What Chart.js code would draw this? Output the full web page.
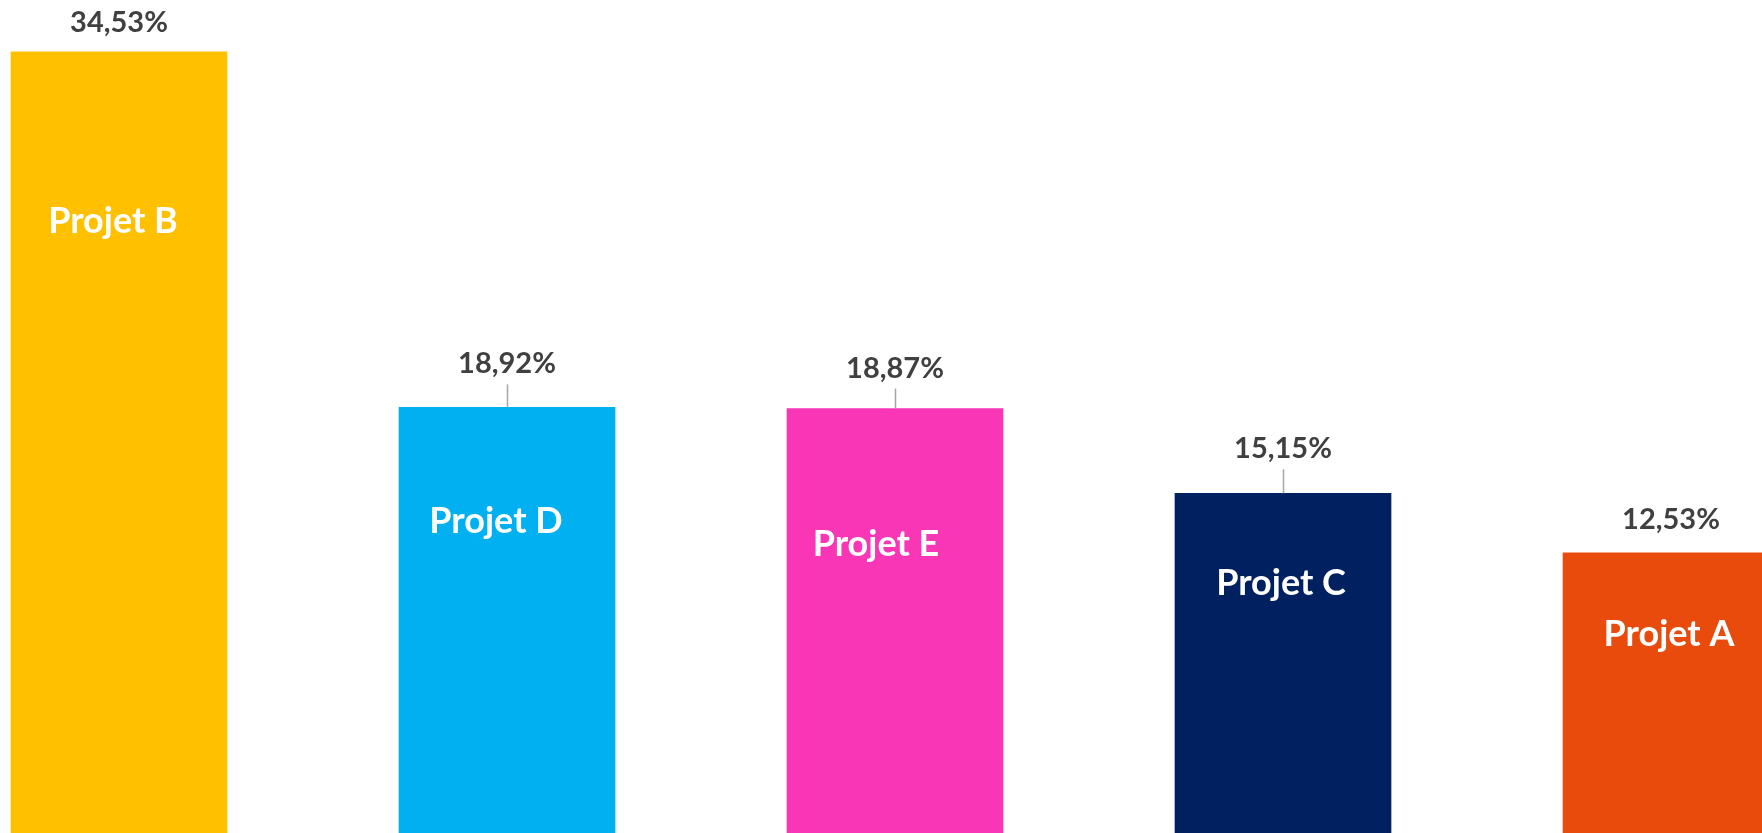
<!DOCTYPE html>
<html>
<head>
<meta charset="utf-8">
<script src="https://cdn.jsdelivr.net/npm/chart.js@4"></script>
<style>
  html, body { margin: 0; padding: 0; background: #ffffff; overflow: hidden; }
  #wrap { position: relative; width: 1762px; height: 833px; }
</style>
</head>
<body>
<div id="wrap"><canvas id="c" width="1762" height="833"></canvas></div>
<script>
// ---- data ----
const categories = ["Projet B", "Projet D", "Projet E", "Projet C", "Projet A"];
const shares = [34.53, 18.92, 18.87, 15.15, 12.53];
const barColors = ["#FFC000", "#00B0F0", "#F936B5", "#002060", "#E84B0C"];

// ---- label styling (pixel offsets relative to bar top) ----
const valueBaseline = [-20, -34, -31, -35, -24];
const leaderFlags   = [false, true, true, true, false];
const innerBaseline = [181, 126, 147, 102, 93];
const innerDx       = [-6, -11, -19, -2, -2];

const fmt = v => v.toFixed(2).replace('.', ',') + '%';

const labelPlugin = {
  id: 'barLabels',
  afterDatasetsDraw(chart) {
    const ctx = chart.ctx;
    const meta = chart.getDatasetMeta(0);
    ctx.save();
    meta.data.forEach((bar, i) => {
      const x = bar.x, top = bar.y;
      // value label
      ctx.font = 'bold 29px Lato, "Open Sans", sans-serif';
      ctx.fillStyle = '#404040';
      ctx.textAlign = 'center';
      ctx.textBaseline = 'alphabetic';
      ctx.fillText(fmt(shares[i]), x, top + valueBaseline[i]);
      if (leaderFlags[i]) {
        ctx.strokeStyle = '#A6A6A6';
        ctx.lineWidth = 1.5;
        ctx.beginPath();
        ctx.moveTo(Math.round(x) + 0.5, top + valueBaseline[i] + 11);
        ctx.lineTo(Math.round(x) + 0.5, top);
        ctx.stroke();
      }
      // category label inside the bar
      ctx.font = 'bold 36px Lato, "Open Sans", sans-serif';
      ctx.fillStyle = '#FFFFFF';
      ctx.fillText(categories[i], x + innerDx[i], top + innerBaseline[i]);
    });
    ctx.restore();
  }
};

const points = shares.map((v, i) => ({ x: i, y: v }));

new Chart(document.getElementById('c'), {
  type: 'bar',
  data: {
    datasets: [{
      data: points,
      backgroundColor: barColors,
      borderWidth: 0,
      barThickness: 216
    }]
  },
  options: {
    responsive: false,
    animation: false,
    layout: { padding: 0 },
    plugins: { legend: { display: false }, tooltip: { enabled: false } },
    scales: {
      x: { type: 'linear', offset: false, min: -0.3067, max: 4.2345, display: false },
      y: { min: 0.233, max: 36.81, display: false }
    }
  },
  plugins: [labelPlugin]
});
</script>
</body>
</html>
